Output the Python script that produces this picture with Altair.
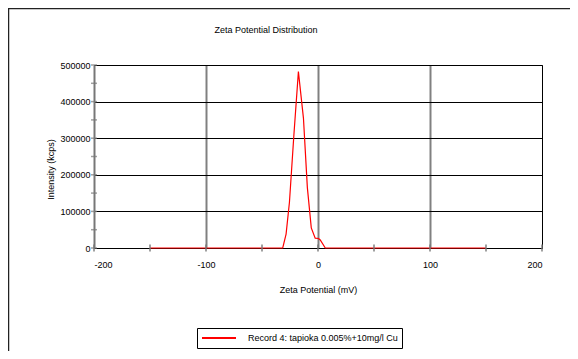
import altair as alt
import pandas as pd

# Data
zeta_mv = [-150, -31.5, -28.5, -25.5, -21.5, -17.5, -13, -9.5, -6, -2.5, 0.5, 2, 6.5, 150]
intensity = [0, 0, 38000, 125000, 310000, 482000, 355000, 165000, 55000, 27000, 26000, 22000, 0, 0]
series_name = "Record 4: tapioka 0.005%+10mg/l Cu"

x_tick_values = [-200, -150, -100, -50, 0, 50, 100, 150, 200]
y_minor_values = [0, 50000, 100000, 150000, 200000, 250000, 300000, 350000, 400000, 450000, 500000]
x_label_values = [-200, -100, 0, 100, 200]
y_label_values = [0, 100000, 200000, 300000, 400000, 500000]

FONT = "Liberation Sans, Arial, sans-serif"
FS = 9

df = pd.DataFrame({"zeta": zeta_mv, "intensity": intensity, "series": series_name})
xt = pd.DataFrame({"v": x_tick_values, "z": [0] * len(x_tick_values)})
yt = pd.DataFrame({"v": y_minor_values, "z": [-200] * len(y_minor_values)})

xscale = alt.Scale(domain=[-200, 200], nice=False, zero=False)
yscale = alt.Scale(domain=[0, 500000], nice=False)

x_axis = alt.Axis(
    values=x_label_values, labelExpr="'' + datum.value", title="Zeta Potential (mV)",
    grid=True,
    gridColor="#808080",
    gridWidth=2,
    gridOpacity={"condition": {"test": "datum.value === 200 || datum.value === -200", "value": 0}, "value": 1},
    ticks=False, domainColor="black", domainWidth=1, labelOverlap=False,
    labelPadding=12, labelFont=FONT, labelFontSize=FS, labelColor="black",
    titleFont=FONT, titleFontSize=FS, titleFontWeight="normal", titleColor="black",
    titleY=41, titleBaseline="middle",
)
y_axis = alt.Axis(
    values=y_label_values, labelExpr="'' + datum.value", title="Intensity (kcps)",
    grid=True, gridColor="black", gridWidth=1, labelOverlap=False,
    ticks=False, domainColor="#777777", domainWidth=2,
    labelPadding=4, labelFont=FONT, labelFontSize=FS, labelColor="black",
    titleFont=FONT, titleFontSize=FS, titleFontWeight="normal", titleColor="black",
    titleX=-44, titleY=104, titleBaseline="middle", titleAngle=-90,
)

line = alt.Chart(df).mark_line(strokeWidth=1.2).encode(
    x=alt.X("zeta:Q", scale=xscale, axis=x_axis),
    y=alt.Y("intensity:Q", scale=yscale, axis=y_axis),
    color=alt.Color(
        "series:N",
        scale=alt.Scale(domain=[series_name], range=["#ff0000"]),
        legend=alt.Legend(
            title=None, orient="none", legendX=103, legendY=263,
            strokeColor="black", fillColor="white", padding=4,
            symbolType="stroke", symbolSize=1156, symbolStrokeWidth=2,
            clipHeight=12,
            labelFont=FONT, labelFontSize=FS, labelColor="black", labelOffset=11,
            labelLimit=0,
        ),
    ),
)

xticks = alt.Chart(xt).mark_tick(orient="vertical", size=7, thickness=2, color="#777777").encode(
    x=alt.X("v:Q", scale=xscale, axis=x_axis),
    y=alt.Y("z:Q", scale=yscale, axis=y_axis),
)
yticks = alt.Chart(yt).mark_tick(orient="horizontal", size=6, thickness=1.5, color="#777777").encode(
    x=alt.X("z:Q", scale=xscale, axis=x_axis),
    y=alt.Y("v:Q", scale=yscale, axis=y_axis),
)

one = pd.DataFrame({"a": [0]})
frame_left = alt.Chart(one).mark_rule(color="#222222", strokeWidth=1.5).encode(
    x=alt.value(-85.5), y=alt.value(-57), y2=alt.value(300)
)
frame_top = alt.Chart(one).mark_rule(color="#222222", strokeWidth=1.5).encode(
    x=alt.value(-86), x2=alt.value(490), y=alt.value(-56.5)
)

chart = alt.layer(line, xticks, yticks, frame_left, frame_top).properties(
    width=448, height=183,
    autosize=alt.AutoSizeParams(type="none"),
    padding={"left": 86, "top": 57, "right": 28, "bottom": 103},
    title=alt.TitleParams(
        "Zeta Potential Distribution", font=FONT, fontSize=FS, fontWeight="normal",
        color="black", anchor="middle", dx=-52, offset=-28, frame="group",
    ),
).configure(background="white").configure_view(stroke="black", strokeWidth=1)

chart.save("out.html", embed_options={"renderer": "svg", "actions": False})
